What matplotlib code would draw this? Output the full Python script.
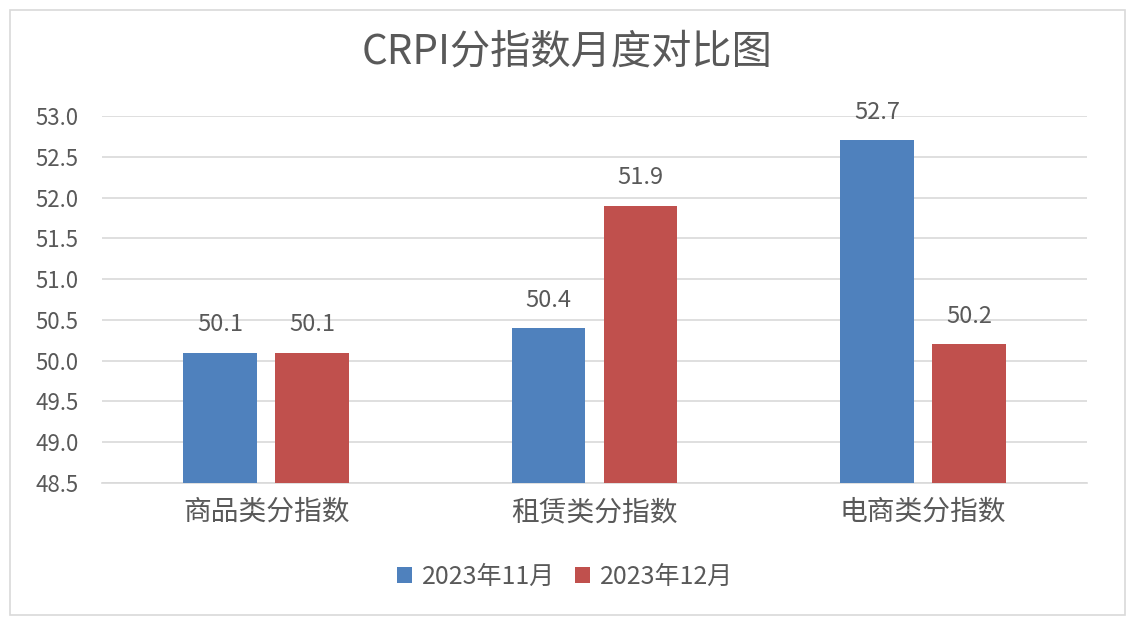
import matplotlib
matplotlib.use("Agg")
import matplotlib.pyplot as plt
from matplotlib.patches import Rectangle
import numpy as np

plt.rcParams['font.family'] = ['Noto Sans CJK SC', 'DejaVu Sans']

categories = ["商品类分指数", "租赁类分指数", "电商类分指数"]
series_names = ["2023年11月", "2023年12月"]
nov_values = [50.1, 50.4, 52.7]
dec_values = [50.1, 51.9, 50.2]
yticks = [48.5, 49.0, 49.5, 50.0, 50.5, 51.0, 51.5, 52.0, 52.5, 53.0]

blue = "#4F81BD"
red = "#C0504D"
text_color = "#595959"

fig = plt.figure(figsize=(11.38, 6.22), dpi=100)
fig.patches.append(Rectangle((10/1138, 1-615/622), 1115/1138, 605/622,
                             transform=fig.transFigure, fill=False,
                             edgecolor="#D9D9D9", linewidth=1.2))

ax = fig.add_axes([102/1138, 1-483/622, 985/1138, (483-116)/622])
x = np.arange(len(categories))
w = 0.225
off = 0.14
b1 = ax.bar(x - off, nov_values, w, color=blue, label=series_names[0], zorder=3)
b2 = ax.bar(x + off, dec_values, w, color=red, label=series_names[1], zorder=3)

ax.set_ylim(48.5, 53.0)
ax.set_xlim(-0.5, 2.5)
ax.set_yticks(yticks)
ax.set_yticklabels([f"{v:.1f}" for v in yticks], fontsize=16, color=text_color)
ax.set_xticks(x)
ax.set_xticklabels(categories, fontsize=20, color=text_color)
ax.tick_params(axis='both', length=0)
ax.tick_params(axis='x', pad=10)
ax.tick_params(axis='y', pad=17)
ax.grid(axis='y', color="#D9D9D9", linewidth=1.2, zorder=0)
for s in ax.spines.values():
    s.set_visible(False)
ax.spines['bottom'].set_visible(True)
ax.spines['bottom'].set_color("#D9D9D9")
ax.spines['bottom'].set_linewidth(1.2)

for bars in (b1, b2):
    for r in bars:
        ax.annotate(f"{r.get_height():.1f}", (r.get_x() + r.get_width()/2, r.get_height()),
                    xytext=(0, 20), textcoords="offset points", ha="center", va="center",
                    fontsize=17, color=text_color)

fig.text(567/1138, 1-52/622, "CRPI分指数月度对比图", ha="center", va="center",
         fontsize=29, color=text_color)

fig.legend(handles=[b1, b2], labels=series_names, loc="center",
           bbox_to_anchor=(565/1138, 1-577/622), ncol=2, frameon=False,
           fontsize=18, handlelength=0.6, handleheight=0.6, handletextpad=0.4,
           columnspacing=0.8, labelcolor=text_color)

fig.savefig("out.png", dpi=100, facecolor="white")
